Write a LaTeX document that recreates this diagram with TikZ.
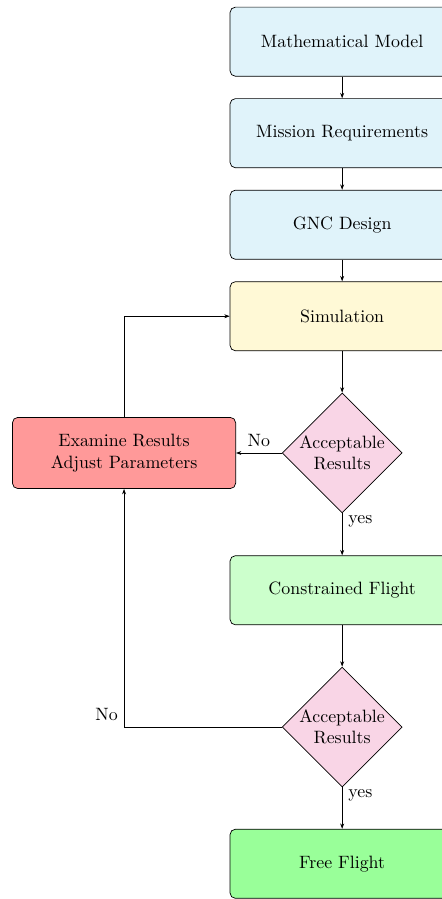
\documentclass[tikz,border=0pt]{standalone}
\usepackage{tikz}
\usetikzlibrary{shapes.geometric, arrows.meta, positioning}

\definecolor{modelblue}{HTML}{E0F3FA}
\definecolor{simyellow}{HTML}{FFF9D6}
\definecolor{adjustred}{HTML}{FF9999}
\definecolor{checkpink}{HTML}{F9D5E6}
\definecolor{cflightgreen}{HTML}{CCFFCC}
\definecolor{fflightgreen}{HTML}{99FF99}

\begin{document}
\begin{tikzpicture}[
    stagebox/.style={rectangle, draw=black, fill=modelblue, rounded corners=3pt, minimum width=4.41cm, minimum height=1.36cm, align=center},
    check/.style={diamond, aspect=1, draw=black, fill=checkpink, inner sep=0pt, align=center},
    arr/.style={-{Stealth[length=3pt, width=2.2pt]}, draw=black}
]
\useasboundingbox (0,0) rectangle (8.694,-17.683);

% 1. Design chain
\node[stagebox] (model) at (6.73,-0.82) {Mathematical Model};
\node[stagebox] (mission) at (6.73,-2.62) {Mission Requirements};
\node[stagebox] (gnc) at (6.73,-4.42) {GNC Design};
\node[stagebox, fill=simyellow] (sim) at (6.73,-6.22) {Simulation};

\draw[arr] (model) -- (mission);
\draw[arr] (mission) -- (gnc);
\draw[arr] (gnc) -- (sim);

% 2. Simulation check and loop back
\node[check] (check1) at (6.73,-8.91) {Acceptable\\Results};
\node[stagebox, fill=adjustred, minimum width=4.39cm, minimum height=1.4cm] (adjust) at (2.44,-8.91) {Examine Results\\Adjust Parameters};

\draw[arr] (sim) -- (check1);
\draw[arr] (check1) -- node[above]{No} (adjust);
\draw[arr] (adjust.north) |- (sim.west);

% 3. Flight tests
\node[stagebox, fill=cflightgreen] (cflight) at (6.73,-11.61) {Constrained Flight};
\node[check] (check2) at (6.73,-14.30) {Acceptable\\Results};
\node[stagebox, fill=fflightgreen] (fflight) at (6.73,-16.99) {Free Flight};

\draw[arr] (check1) -- node[right, pos=0.2]{yes} (cflight);
\draw[arr] (cflight) -- (check2);
\draw[arr] (check2.west) -| node[above left, pos=0.5]{No} (adjust.south);
\draw[arr] (check2) -- node[right, pos=0.2]{yes} (fflight);

\end{tikzpicture}
\end{document}
